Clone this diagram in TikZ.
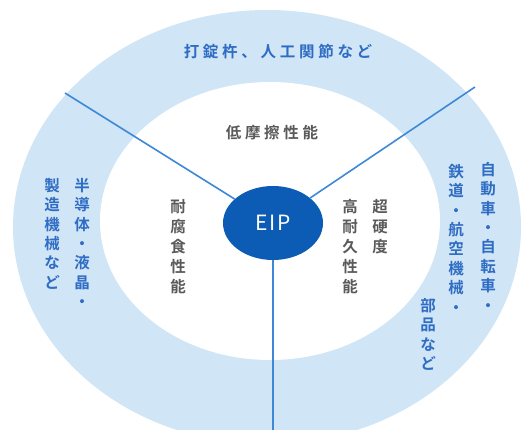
\documentclass[tikz,border=0pt]{standalone}
\usepackage{fontspec}
\newfontfamily\jpfont{Noto Sans CJK JP}
\newfontfamily\jpbold{Noto Sans CJK JP Bold}
\usetikzlibrary{shapes.geometric}
\definecolor{ringblue}{HTML}{D0E5F5}
\definecolor{textblue}{HTML}{2F6CC4}
\definecolor{lineblue}{HTML}{3D89D8}
\definecolor{eipblue}{HTML}{0C5CB6}
\definecolor{graytext}{HTML}{5A5A5A}
\tikzset{
  outertxt/.style={text=textblue, font=\jpbold\fontsize{15.5}{19.4}\selectfont, align=center, inner sep=0pt},
  innertxt/.style={text=graytext, font=\jpbold\fontsize{15.5}{20}\selectfont, align=center, inner sep=0pt},
  spoke/.style={draw=lineblue, line width=1.6pt},
}
\begin{document}
\begin{tikzpicture}[x=1pt,y=-1pt]
\useasboundingbox (0,0) rectangle (527,429);
\clip (0,0) rectangle (527,429);
\fill[ringblue] (267,227) ellipse [x radius=254, y radius=217];
\fill[white] (270,221) ellipse [x radius=170, y radius=139];
\node[ellipse, fill=eipblue, minimum width=100pt, minimum height=74pt, inner sep=0pt,
      text=white, font=\fontsize{21}{21}\selectfont\jpfont\addfontfeature{LetterSpace=8}] (eip) at (273,223) {EIP};
\coordinate (ul) at (65,93);
\coordinate (ur) at (475,87);
\coordinate (dn) at (273,432);
\draw[spoke] (eip) -- (ul);
\draw[spoke] (eip) -- (ur);
\draw[spoke] (eip) -- (dn);
% outer texts
\node[outertxt, font=\jpbold\fontsize{15.5}{15.5}\selectfont\addfontfeature{LetterSpace=24}] (t1) at (278,52) {打錠杵、人工関節など};
\node[outertxt, anchor=north] (l1) at (82,178) {半\\導\\体\\・\\液\\晶\\・};
\node[outertxt, anchor=north] (l2) at (52,178) {製\\造\\機\\械\\な\\ど};
\node[outertxt, anchor=north] (r1) at (488,162) {自\\動\\車\\・\\自\\転\\車\\・};
\node[outertxt, anchor=north] (r2) at (456,164) {鉄\\道\\・\\航\\空\\機\\械\\・};
\node[outertxt, anchor=north] (r3) at (428,298) {部\\品\\な\\ど};
% inner texts
\node[innertxt, font=\jpbold\fontsize{15.5}{15.5}\selectfont\addfontfeature{LetterSpace=24}] (i1) at (272,133) {低摩擦性能};
\node[innertxt, anchor=north] (i2) at (178,199) {耐\\腐\\食\\性\\能};
\node[innertxt, anchor=north] (i3) at (380,199) {超\\硬\\度};
\node[innertxt, anchor=north] (i4) at (350,199) {高\\耐\\久\\性\\能};
\end{tikzpicture}
\end{document}
